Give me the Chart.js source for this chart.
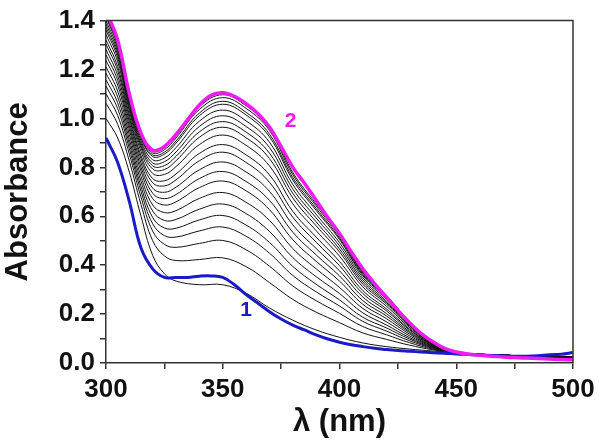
<!DOCTYPE html>
<html>
<head>
<meta charset="utf-8">
<script src="https://cdn.jsdelivr.net/npm/chart.js@4.4.1/dist/chart.umd.min.js"></script>
<style>
  html, body { margin: 0; padding: 0; background: #fff; }
  #wrap { width: 602px; height: 445px; }
</style>
</head>
<body>
<div id="wrap"><canvas id="uvChart" width="602" height="445"></canvas></div>
<script>
// wavelengths (nm) for the two highlighted spectra
const lambdaFine = [300, 305, 310, 315, 320, 325, 330, 335, 340, 345, 350, 355, 360, 365, 370, 375, 380, 385, 390, 395,
  400, 405, 410, 415, 420, 425, 430, 435, 440, 445, 450, 455, 460, 465, 470, 475, 480, 485, 490, 495, 500];

// spectrum 1 (blue, start)
const spectrum1 = [0.92, 0.82, 0.66, 0.47, 0.385, 0.35, 0.35, 0.35, 0.355, 0.356, 0.35, 0.32, 0.28, 0.245, 0.21, 0.18, 0.155, 0.135, 0.115, 0.098,
  0.085, 0.075, 0.067, 0.06, 0.055, 0.051, 0.048, 0.045, 0.042, 0.04, 0.037, 0.035, 0.033, 0.031, 0.029, 0.028, 0.028, 0.03, 0.034, 0.036, 0.043];

// spectrum 2 (magenta, end)
const spectrum2 = [1.44, 1.32, 1.10, 0.94, 0.87, 0.885, 0.935, 0.995, 1.055, 1.095, 1.105, 1.09, 1.06, 1.02, 0.965, 0.885, 0.80, 0.735, 0.665, 0.595,
  0.53, 0.455, 0.385, 0.325, 0.27, 0.215, 0.165, 0.12, 0.087, 0.06, 0.045, 0.037, 0.032, 0.028, 0.025, 0.022, 0.02, 0.018, 0.016, 0.014, 0.013];

// wavelengths for the intermediate titration spectra
const lambdaSteps = [300, 305, 310, 315, 320, 325, 330, 340, 350, 360, 370, 380, 390, 400, 410, 420, 430, 440, 450, 470, 500];

// intermediate spectra (thin black), bottom to top
const stepSpectra = [
  [1.000, 0.920, 0.780, 0.600, 0.440, 0.365, 0.335, 0.320, 0.320, 0.285, 0.225, 0.175, 0.135, 0.105, 0.082, 0.067, 0.057, 0.049, 0.042, 0.032, 0.024],
  [1.062, 0.976, 0.825, 0.648, 0.500, 0.438, 0.419, 0.423, 0.430, 0.394, 0.329, 0.260, 0.208, 0.165, 0.123, 0.097, 0.073, 0.054, 0.042, 0.032, 0.024],
  [1.101, 1.012, 0.854, 0.678, 0.539, 0.485, 0.473, 0.489, 0.501, 0.463, 0.396, 0.315, 0.255, 0.203, 0.149, 0.116, 0.083, 0.057, 0.043, 0.032, 0.024],
  [1.132, 1.040, 0.876, 0.702, 0.569, 0.521, 0.515, 0.540, 0.556, 0.518, 0.449, 0.358, 0.291, 0.233, 0.170, 0.131, 0.091, 0.060, 0.043, 0.032, 0.024],
  [1.158, 1.064, 0.895, 0.722, 0.595, 0.552, 0.551, 0.585, 0.603, 0.564, 0.493, 0.395, 0.322, 0.258, 0.187, 0.144, 0.098, 0.062, 0.043, 0.032, 0.024],
  [1.185, 1.088, 0.914, 0.743, 0.621, 0.583, 0.587, 0.629, 0.650, 0.611, 0.538, 0.431, 0.353, 0.284, 0.205, 0.156, 0.104, 0.064, 0.043, 0.032, 0.024],
  [1.211, 1.112, 0.934, 0.763, 0.646, 0.615, 0.623, 0.673, 0.697, 0.657, 0.583, 0.468, 0.385, 0.309, 0.223, 0.169, 0.111, 0.066, 0.043, 0.032, 0.024],
  [1.238, 1.136, 0.953, 0.784, 0.672, 0.646, 0.659, 0.717, 0.744, 0.704, 0.627, 0.504, 0.416, 0.335, 0.240, 0.182, 0.118, 0.068, 0.044, 0.032, 0.024],
  [1.260, 1.156, 0.969, 0.801, 0.694, 0.672, 0.689, 0.754, 0.783, 0.742, 0.665, 0.535, 0.442, 0.356, 0.255, 0.193, 0.124, 0.070, 0.044, 0.032, 0.024],
  [1.282, 1.176, 0.985, 0.818, 0.715, 0.698, 0.719, 0.790, 0.822, 0.781, 0.702, 0.565, 0.468, 0.377, 0.270, 0.203, 0.129, 0.072, 0.044, 0.032, 0.024],
  [1.304, 1.196, 1.001, 0.835, 0.737, 0.724, 0.749, 0.827, 0.862, 0.820, 0.739, 0.596, 0.494, 0.398, 0.284, 0.214, 0.135, 0.074, 0.044, 0.032, 0.024],
  [1.321, 1.212, 1.014, 0.848, 0.754, 0.745, 0.773, 0.857, 0.893, 0.851, 0.769, 0.620, 0.515, 0.415, 0.296, 0.222, 0.139, 0.075, 0.044, 0.032, 0.023],
  [1.343, 1.232, 1.030, 0.865, 0.775, 0.771, 0.803, 0.893, 0.932, 0.890, 0.806, 0.651, 0.541, 0.437, 0.311, 0.233, 0.145, 0.077, 0.044, 0.031, 0.022],
  [1.361, 1.248, 1.042, 0.879, 0.793, 0.791, 0.827, 0.923, 0.964, 0.921, 0.836, 0.675, 0.561, 0.454, 0.322, 0.242, 0.150, 0.079, 0.045, 0.031, 0.021],
  [1.374, 1.260, 1.052, 0.889, 0.806, 0.807, 0.845, 0.945, 0.987, 0.944, 0.858, 0.694, 0.577, 0.466, 0.331, 0.248, 0.153, 0.080, 0.045, 0.031, 0.020],
  [1.387, 1.272, 1.062, 0.899, 0.818, 0.823, 0.863, 0.967, 1.011, 0.967, 0.881, 0.712, 0.593, 0.479, 0.340, 0.254, 0.156, 0.081, 0.045, 0.030, 0.019],
  [1.400, 1.284, 1.071, 0.909, 0.831, 0.838, 0.881, 0.989, 1.034, 0.990, 0.903, 0.730, 0.608, 0.492, 0.349, 0.261, 0.160, 0.082, 0.045, 0.030, 0.018],
  [1.414, 1.296, 1.081, 0.920, 0.844, 0.854, 0.899, 1.011, 1.058, 1.014, 0.925, 0.748, 0.624, 0.505, 0.357, 0.267, 0.163, 0.083, 0.045, 0.030, 0.017],
  [1.420, 1.302, 1.086, 0.925, 0.851, 0.862, 0.908, 1.022, 1.070, 1.025, 0.936, 0.758, 0.632, 0.511, 0.362, 0.270, 0.165, 0.083, 0.045, 0.030, 0.016],
  [1.429, 1.310, 1.092, 0.932, 0.859, 0.872, 0.920, 1.037, 1.085, 1.041, 0.951, 0.770, 0.642, 0.519, 0.368, 0.275, 0.167, 0.084, 0.045, 0.030, 0.015],
  [1.436, 1.316, 1.097, 0.937, 0.866, 0.880, 0.929, 1.048, 1.097, 1.052, 0.963, 0.779, 0.650, 0.526, 0.372, 0.278, 0.169, 0.085, 0.045, 0.030, 0.014]
];

// tick labels
const xTickLabels = [300, 350, 400, 450, 500];
const yTickLabels = ['0.0', '0.2', '0.4', '0.6', '0.8', '1.0', '1.2', '1.4'];

// curve labels: text, wavelength, absorbance, colour
const curveLabels = [
  ['1', 360, 0.216, '#1a1ac8'],
  ['2', 379, 0.99, '#ee1cee']
];

const toPoints = (xs, ys) => xs.map((x, i) => ({ x: x, y: ys[i] }));

const datasets = [
  {
    data: toPoints(lambdaFine, spectrum2),
    borderColor: '#ee1cee',
    borderWidth: 3.5,
    order: 0
  },
  {
    data: toPoints(lambdaFine, spectrum1),
    borderColor: '#1a1ac8',
    borderWidth: 3,
    order: 1
  }
];
stepSpectra.forEach((s) => {
  datasets.push({
    data: toPoints(lambdaSteps, s),
    borderColor: '#111',
    borderWidth: 1,
    order: 2
  });
});

// closes the frame (top / right) and writes the curve numbers
const framePlugin = {
  id: 'frame',
  afterDatasetsDraw(chart) {
    const { ctx, chartArea: a, scales } = chart;
    ctx.save();
    ctx.strokeStyle = '#333';
    ctx.lineWidth = 1.5;
    ctx.beginPath();
    ctx.moveTo(a.left, a.top);
    ctx.lineTo(a.right, a.top);
    ctx.lineTo(a.right, a.bottom);
    ctx.stroke();
    ctx.font = 'bold 21px "Liberation Sans", Arial, sans-serif';
    ctx.textAlign = 'center';
    ctx.textBaseline = 'middle';
    curveLabels.forEach(([t, lx, ly, c]) => {
      ctx.fillStyle = c;
      ctx.fillText(t, scales.x.getPixelForValue(lx), scales.y.getPixelForValue(ly));
    });
    ctx.restore();
  }
};

const tickFont = { family: '"Liberation Sans", Arial, sans-serif', size: 26, weight: 'bold' };
const titleFont = { family: '"Liberation Sans", Arial, sans-serif', size: 31, weight: 'bold' };

new Chart(document.getElementById('uvChart').getContext('2d'), {
  type: 'line',
  data: { datasets: datasets },
  plugins: [framePlugin],
  options: {
    responsive: false,
    animation: false,
    layout: { padding: { left: 0, right: 29, top: 18, bottom: 0 } },
    elements: {
      point: { radius: 0 },
      line: { tension: 0.4, fill: false }
    },
    plugins: { legend: { display: false }, tooltip: { enabled: false } },
    scales: {
      x: {
        type: 'linear',
        min: 300,
        max: 500,
        afterFit: (s) => { s.height = 82; },
        border: { color: '#333', width: 1.5 },
        grid: { drawOnChartArea: false, drawTicks: true, tickLength: 6, color: '#333', lineWidth: 1.5 },
        ticks: {
          stepSize: 25,
          autoSkip: false,
          maxRotation: 0,
          padding: 5,
          color: '#111',
          font: tickFont,
          callback: (v) => (xTickLabels.includes(v) ? String(v) : '')
        },
        title: { display: true, text: 'λ (nm)', color: '#111', font: titleFont, padding: { top: 0, bottom: 4 } }
      },
      y: {
        min: 0,
        max: 1.4,
        afterFit: (s) => { s.width = 106; },
        border: { color: '#333', width: 1.5 },
        grid: { drawOnChartArea: false, drawTicks: true, tickLength: 6, color: '#333', lineWidth: 1.5 },
        ticks: {
          stepSize: 0.1,
          autoSkip: false,
          padding: 5,
          color: '#111',
          font: tickFont,
          callback: (v) => {
            const s = Number(v).toFixed(1);
            return yTickLabels.includes(s) ? s : '';
          }
        },
        title: { display: true, text: 'Absorbance', color: '#111', font: titleFont, padding: { top: 0, bottom: 0 } }
      }
    }
  }
});
</script>
</body>
</html>
